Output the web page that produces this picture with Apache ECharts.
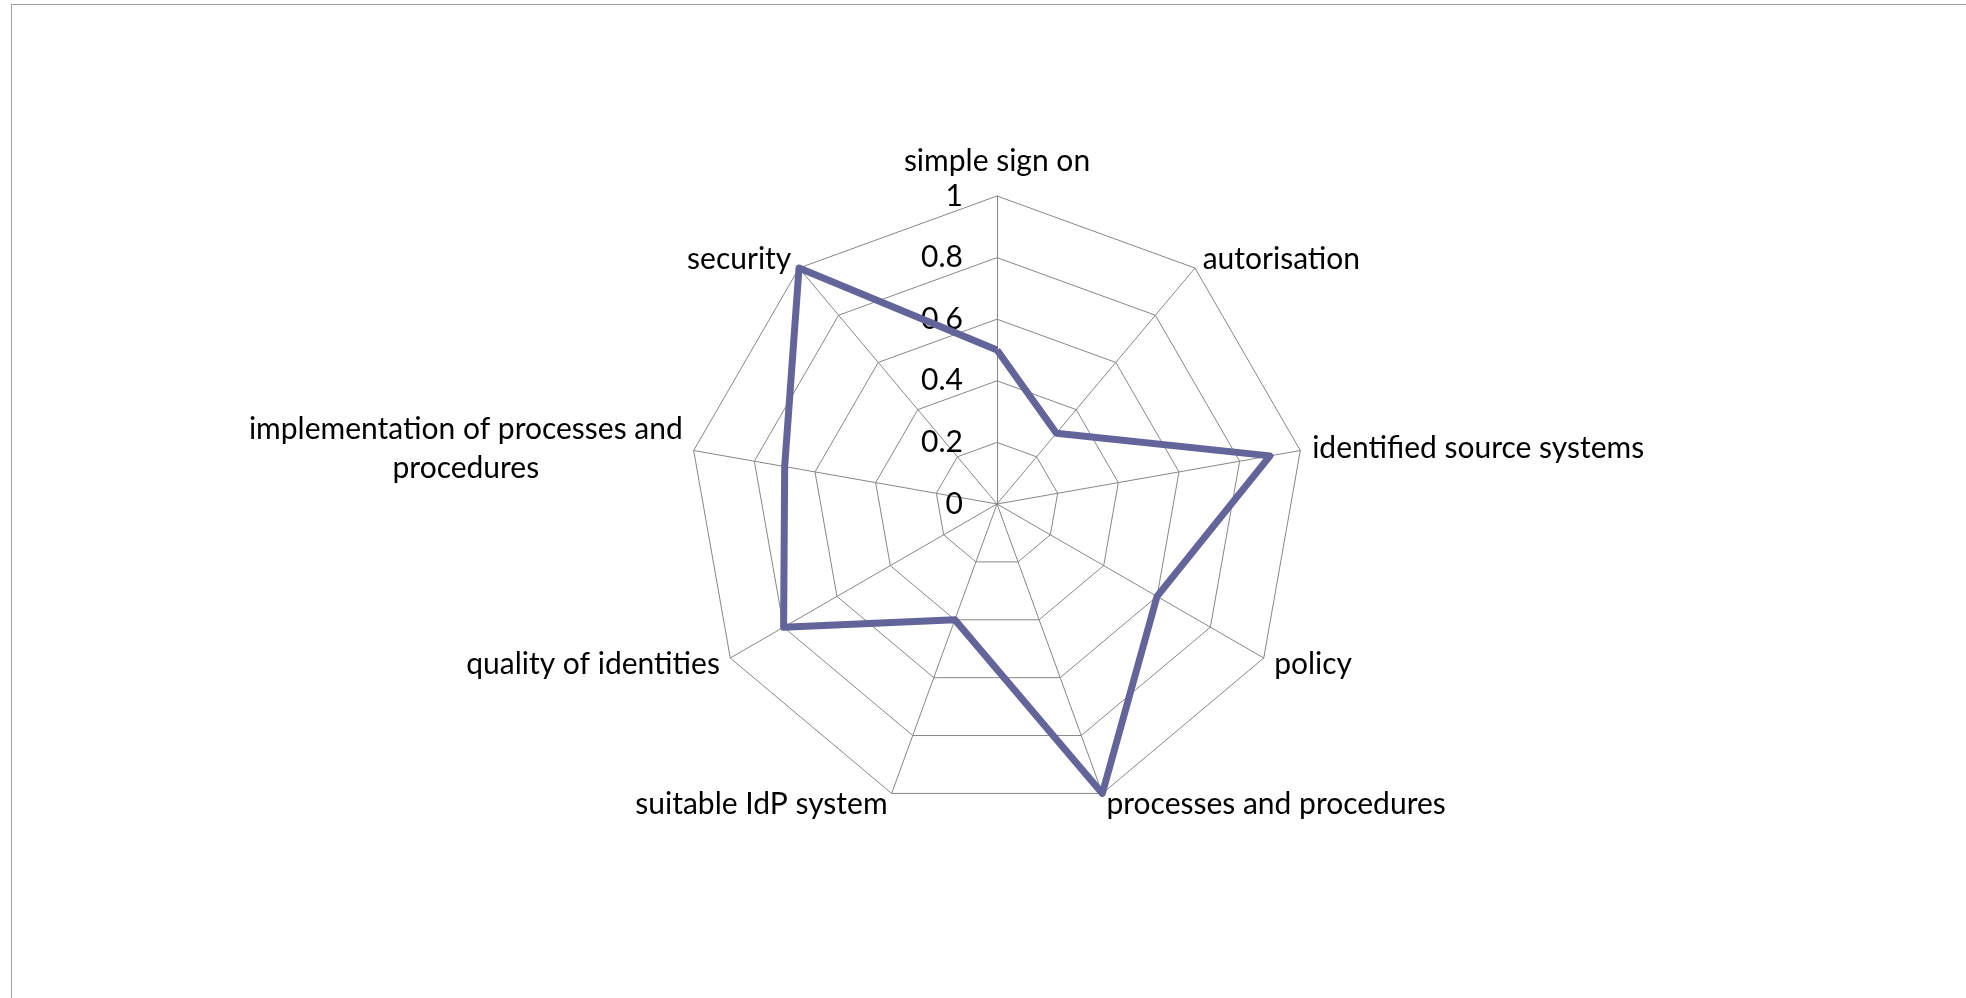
<!DOCTYPE html>
<html>
<head>
<meta charset="utf-8">
<script src="https://cdn.jsdelivr.net/npm/echarts@6/dist/echarts.min.js"></script>
<style>
html,body{margin:0;padding:0;background:#fff;}
#frame{position:absolute;left:11px;top:4px;width:2000px;height:1100px;border-top:1px solid #a0a0a0;border-left:1px solid #a0a0a0;}
#chart{position:absolute;left:0;top:0;width:1966px;height:998px;}
</style>
</head>
<body>
<div id="frame"></div>
<div id="chart"></div>
<script>
// categories in clockwise order starting at the top
const categories = [
  'simple sign on',
  'autorisation',
  'identified source systems',
  'policy',
  'processes and procedures',
  'suitable IdP system',
  'quality of identities',
  'implementation of processes and\nprocedures',
  'security'
];
const values = [0.5, 0.3, 0.9, 0.6, 1.0, 0.4, 0.8, 0.7, 1.0];
const tickLabels = ['0', '0.2', '0.4', '0.6', '0.8', '1'];

// ECharts places indicators counter-clockwise; reorder to get a clockwise layout
const order = [0].concat(categories.map((_, i) => i).slice(1).reverse());
const indicator = order.map((i, k) => {
  const ind = { name: categories[i], min: 0, max: 1 };
  if (k === 0) {
    ind.axisLabel = {
      show: true,
      margin: 34,
      fontSize: 30,
      color: '#000',
      fontFamily: 'Lato',
      formatter: (v) => tickLabels[Math.round(v / 0.2)] ?? ''
    };
  }
  return ind;
});
const seriesData = order.map(i => values[i]);

const chart = echarts.init(document.getElementById('chart'), null, { renderer: 'canvas' });
chart.setOption({
  animation: false,
  radar: {
    center: [997, 504],
    radius: 308,
    shape: 'polygon',
    splitNumber: 5,
    startAngle: 90,
    indicator: indicator,
    nameGap: 12,
    axisName: {
      color: '#000',
      fontSize: 30,
      fontFamily: 'Lato',
      lineHeight: 39,
      formatter: function (name) {
        if (name.indexOf('\n') >= 0) {
          return name.split('\n').map(s => '{c|' + s + '}').join('\n');
        }
        return name;
      },
      rich: {
        c: { fontSize: 30, fontFamily: 'Lato', color: '#000', width: 432, align: 'center', lineHeight: 39 }
      }
    },
    axisLine: { lineStyle: { color: '#878787', width: 1 } },
    splitLine: { lineStyle: { color: '#878787', width: 1 } },
    splitArea: { show: false },
    axisTick: { show: false },
    axisLabel: { show: false }
  },
  series: [{
    type: 'radar',
    symbol: 'none',
    lineStyle: { color: '#63649A', width: 7, join: 'round' },
    data: [{ value: seriesData }]
  }]
});
</script>
</body>
</html>
